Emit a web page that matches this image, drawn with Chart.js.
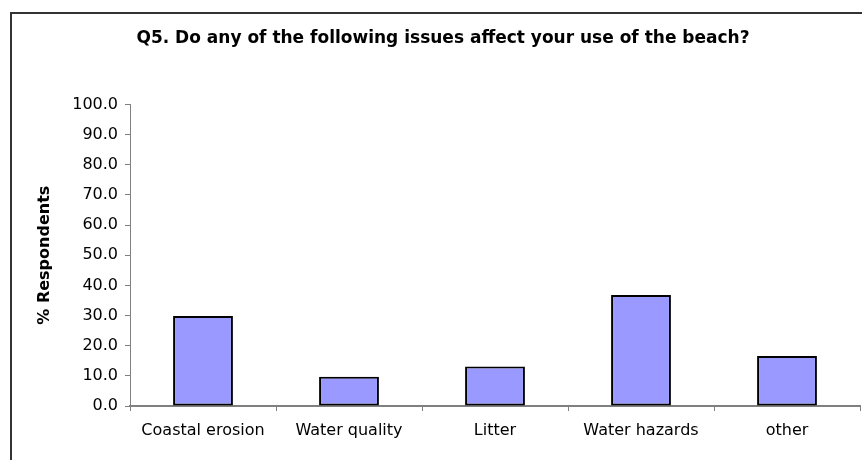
<!DOCTYPE html>
<html>
<head>
<meta charset="utf-8">
<title>Q5 beach issues</title>
<script src="https://cdn.jsdelivr.net/npm/chart.js@4/dist/chart.umd.min.js"></script>
<style>
    html, body {
        margin: 0;
        padding: 0;
        background: #ffffff;
        overflow: hidden;
    }
    #frame {
        position: absolute;
        left: 10px;
        top: 12px;
        width: 900px;
        height: 500px;
        border: 2px solid #333333;
        box-sizing: border-box;
        pointer-events: none;
    }
    #wrap {
        position: absolute;
        left: 0;
        top: 0;
        width: 862px;
        height: 460px;
    }
</style>
</head>
<body>
<div id="frame"></div>
<div id="wrap"><canvas id="issues-chart" width="862" height="460"></canvas></div>
<script>
// Data
const categories = ['Coastal erosion', 'Water quality', 'Litter', 'Water hazards', 'other'];
const respondents = [29.8, 9.7, 13.1, 36.8, 16.6];
const yTicks = [0, 10, 20, 30, 40, 50, 60, 70, 80, 90, 100];

const chartTitle = 'Q5. Do any of the following issues affect your use of the beach?';
const yTitle = '% Respondents';

const fontFamily = '"DejaVu Sans", "Liberation Sans", Arial, sans-serif';
const axisColour = '#808080';

/**
 * Build the bar chart
 */
const initChart = function() {
    const ctx = document.getElementById('issues-chart');

    new Chart(ctx, {
        type: 'bar',
        data: {
            labels: categories,
            datasets: [
                {
                    data: respondents,
                    backgroundColor: '#9999ff',
                    borderColor: '#000000',
                    borderWidth: 2,
                    borderSkipped: false,
                    categoryPercentage: 1.0,
                    barPercentage: 0.41
                }
            ]
        },
        options: {
            responsive: false,
            animation: false,
            layout: {
                padding: {left: 26, right: 2, top: 0, bottom: 0}
            },
            plugins: {
                legend: {display: false},
                tooltip: {enabled: false},
                title: {
                    display: true,
                    text: chartTitle,
                    color: '#000000',
                    font: {family: fontFamily, size: 17, weight: 'bold'},
                    padding: {top: 28, bottom: 56}
                }
            },
            scales: {
                x: {
                    afterFit: function(scale) {
                        scale.height = 54;
                    },
                    grid: {
                        offset: true,
                        drawOnChartArea: false,
                        drawTicks: true,
                        tickLength: 5,
                        color: axisColour,
                        lineWidth: 1
                    },
                    border: {color: axisColour, width: 2},
                    ticks: {
                        color: '#000000',
                        padding: 10,
                        maxRotation: 0,
                        font: {family: fontFamily, size: 16}
                    }
                },
                y: {
                    min: 0,
                    max: 100,
                    afterFit: function(scale) {
                        scale.width = 104;
                    },
                    afterBuildTicks: function(scale) {
                        scale.ticks = yTicks.map(function(v) {
                            return {value: v};
                        });
                    },
                    grid: {
                        drawOnChartArea: false,
                        drawTicks: true,
                        tickLength: 5,
                        color: axisColour,
                        lineWidth: 1
                    },
                    border: {color: axisColour, width: 1},
                    ticks: {
                        color: '#000000',
                        padding: 7,
                        font: {family: fontFamily, size: 16},
                        callback: function(value) {
                            return Number(value).toFixed(1);
                        }
                    },
                    title: {
                        display: true,
                        text: yTitle,
                        color: '#000000',
                        font: {family: fontFamily, size: 16, weight: 'bold'},
                        padding: {top: 9, bottom: 0}
                    }
                }
            }
        }
    });
};

initChart();
</script>
</body>
</html>
